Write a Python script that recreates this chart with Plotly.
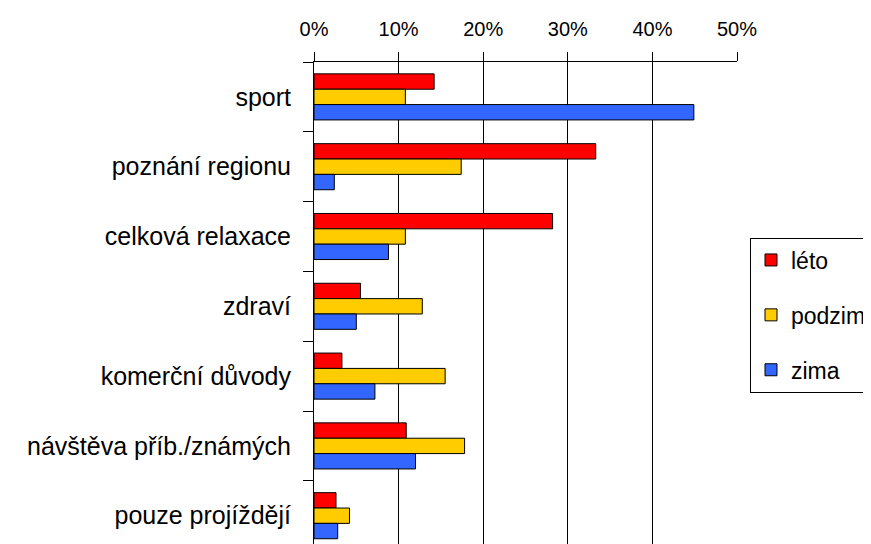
import plotly.graph_objects as go

categories = ["sport", "poznání regionu", "celková relaxace", "zdraví",
              "komerční důvody", "návštěva příb./známých", "pouze projíždějí"]
leto = [14.2, 33.3, 28.2, 5.5, 3.3, 10.9, 2.6]
podzim = [10.8, 17.4, 10.8, 12.8, 15.5, 17.8, 4.2]
zima = [44.9, 2.4, 8.8, 5.0, 7.2, 12.0, 2.8]
series = [("léto", leto, "#FF0000"), ("podzim", podzim, "#FFCC00"), ("zima", zima, "#3366FF")]
x_ticks = [0, 10, 20, 30, 40, 50]

FONT = "Liberation Sans, Arial, sans-serif"

fig = go.Figure()
for i, (name, vals, col) in enumerate(series):
    fig.add_trace(go.Bar(
        y=categories, x=vals, name=name, orientation="h",
        marker=dict(color=col, line=dict(color="black", width=1)),
        legendgroup=name,
    ))

# page body has an 8px margin, so figure coords = screen coords - 8
W, H = 871, 544
ML, MT, MB = 306, 54, 0
MR = W - 729
plot_w = W - ML - MR
plot_h = H - MT - MB

fig.update_layout(
    width=W, height=H,
    margin=dict(l=ML, r=MR, t=MT, b=MB, autoexpand=False),
    paper_bgcolor="white", plot_bgcolor="white",
    barmode="group", bargap=0.34, bargroupgap=0,
    font=dict(family=FONT, size=25, color="black"),
    showlegend=True,
    legend=dict(
        x=(742 - ML) / plot_w, xref="paper",
        y=(H - 307 - MB) / plot_h,
        font=dict(family=FONT, size=23, color="black"),
        bordercolor="black", borderwidth=1, bgcolor="white",
        traceorder="grouped", tracegroupgap=22,
        xanchor="left", yanchor="middle",
        itemwidth=30, entrywidth=150, entrywidthmode="pixels",
    ),
    xaxis=dict(
        side="top", range=[0, 50], tickvals=x_ticks,
        ticktext=[f"{v}%" for v in x_ticks],
        showgrid=True, gridcolor="black", gridwidth=1,
        showline=True, linecolor="black", linewidth=1,
        ticks="outside", ticklen=9, tickcolor="black",
        tickfont=dict(family=FONT, size=20, color="black"),
        ticklabelstandoff=8, zeroline=False, automargin=False,
    ),
    yaxis=dict(
        type="category", categoryorder="array", categoryarray=categories,
        range=[6.52, -0.5],
        showline=True, linecolor="black", linewidth=1,
        ticks="outside", ticklen=10, tickcolor="black", tickson="boundaries",
        showgrid=False, ticklabelstandoff=17, automargin=False,
        tickfont=dict(family=FONT, size=25, color="black"),
    ),
)

fig.write_html("out.html")
